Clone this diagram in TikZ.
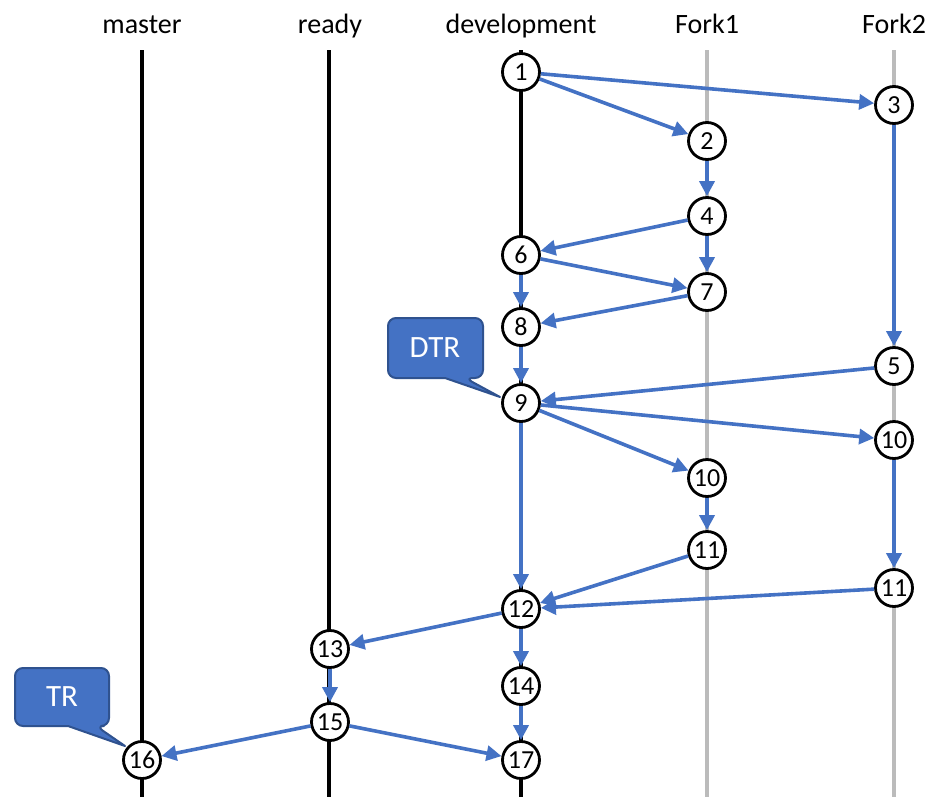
\documentclass[tikz,border=0pt]{standalone}
\usepackage{fontspec}
\setmainfont{Carlito}
\usetikzlibrary{arrows.meta}
\definecolor{ablue}{HTML}{4472C4}
\definecolor{cborder}{HTML}{2F528F}
\definecolor{lgray}{HTML}{BBBBBB}
\begin{document}
\begin{tikzpicture}[x=1pt,y=-1pt,
  commit/.style={circle,draw=black,line width=2.8pt,fill=white,minimum size=37pt,inner sep=0pt,font=\fontsize{26}{26}\selectfont},
  head/.style={font=\fontsize{28}{28}\selectfont,anchor=base},
  mainline/.style={line width=3.8pt,black},
  forkline/.style={line width=3.8pt,lgray},
  flow/.style={ablue,line width=3.6pt,-{Triangle[length=15pt,width=15pt]}},
  callout/.style={fill=ablue,draw=cborder,line width=2pt,line join=round},
  callouttext/.style={text=white,font=\fontsize{31}{31}\selectfont}]
\useasboundingbox (0,0) rectangle (946,804);
% headers
\node[head] (hm) at (142,33) {master};
\node[head] (hr) at (330,33) {ready};
\node[head] (hd) at (521,33) {development};
\node[head] (hf1) at (707,33) {Fork1};
\node[head] (hf2) at (894,33) {Fork2};
% branch lines
\coordinate (mt) at (142,50); \coordinate (mb) at (142,797);
\coordinate (rt) at (329,50); \coordinate (rb) at (329,797);
\coordinate (dt) at (521,50); \coordinate (db) at (521,797);
\coordinate (f1t) at (707,50); \coordinate (f1b) at (707,797);
\coordinate (f2t) at (894,50); \coordinate (f2b) at (894,797);
\draw[mainline] (mt) -- (mb);
\draw[mainline] (rt) -- (rb);
\draw[mainline] (dt) -- (db);
\draw[forkline] (f1t) -- (f1b);
\draw[forkline] (f2t) -- (f2b);
% commits
\node[commit] (c1) at (521,72) {1};
\node[commit] (c2) at (707,141) {2};
\node[commit] (c3) at (894,105) {3};
\node[commit] (c4) at (707,216) {4};
\node[commit] (c6) at (521,255) {6};
\node[commit] (c7) at (707,292) {7};
\node[commit] (c8) at (521,327) {8};
\node[commit] (c5) at (894,366) {5};
\node[commit] (c9) at (521,403) {9};
\node[commit] (c10b) at (894,440) {10};
\node[commit] (c10a) at (707,478) {10};
\node[commit] (c11a) at (707,550) {11};
\node[commit] (c11b) at (894,588) {11};
\node[commit] (c12) at (521,609) {12};
\node[commit] (c13) at (330,649) {13};
\node[commit] (c14) at (521,686) {14};
\node[commit] (c15) at (330,722) {15};
\node[commit] (c16) at (142,760) {16};
\node[commit] (c17) at (521,760) {17};
% flows
\draw[flow] (c1) -- (c3);
\draw[flow] (c1) -- (c2);
\draw[flow] (c2) -- (c4);
\draw[flow] (c4) -- (c6);
\draw[flow] (c4) -- (c7);
\draw[flow] (c6) -- (c7);
\draw[flow] (c6) -- (c8);
\draw[flow] (c7) -- (c8);
\draw[flow] (c3) -- (c5);
\draw[flow] (c5) -- (c9);
\draw[flow] (c8) -- (c9);
\draw[flow] (c9) -- (c10b);
\draw[flow] (c9) -- (c10a);
\draw[flow] (c10a) -- (c11a);
\draw[flow] (c10b) -- (c11b);
\draw[flow] (c9) -- (c12);
\draw[flow] (c11a) -- (c12);
\draw[flow] (c11b) -- (c12);
\draw[flow] (c12) -- (c13);
\draw[flow] (c12) -- (c14);
\draw[flow] (c13) -- (c15);
\draw[flow] (c14) -- (c17);
\draw[flow] (c15) -- (c16);
\draw[flow] (c15) -- (c17);
% callouts
\coordinate (dtip) at (500,397);
\draw[callout] (dtip) -- (445,378) [rounded corners=8pt] -- (388,378) -- (388,318) -- (483,318) -- (483,378) -- (465,378) [sharp corners] -- cycle;
\node[callouttext] (dtr) at (435,348) {DTR};
\coordinate (ttip) at (125,746);
\draw[callout] (ttip) -- (68,726) [rounded corners=8pt] -- (15,726) -- (15,668) -- (109,668) -- (109,726) -- (96,726) [sharp corners] -- cycle;
\node[callouttext] (tr) at (62,697) {TR};
\end{tikzpicture}
\end{document}
